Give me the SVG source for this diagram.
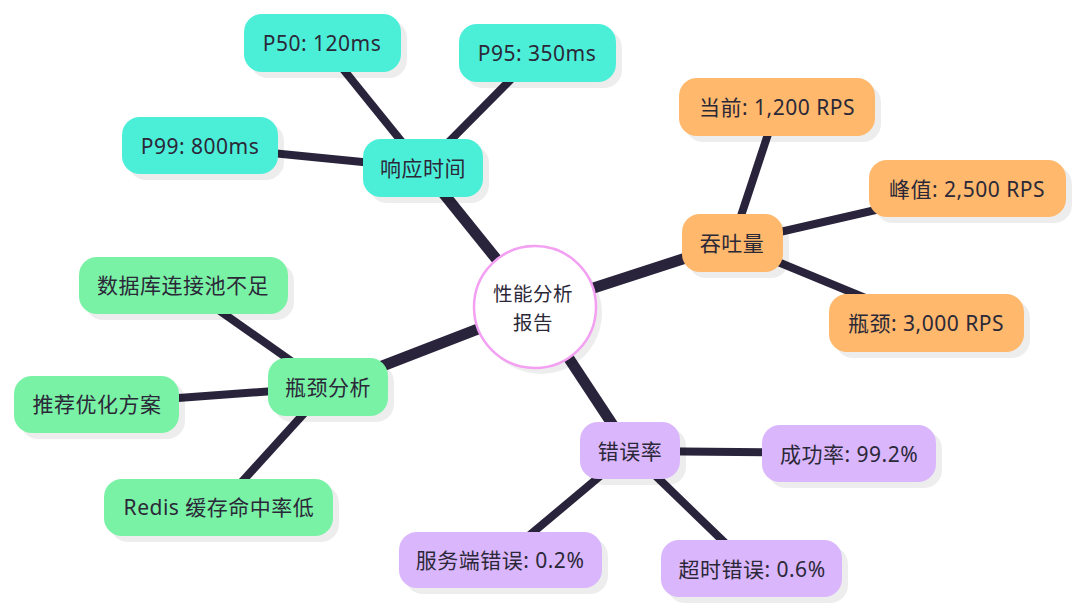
<svg xmlns="http://www.w3.org/2000/svg" width="1080" height="612" viewBox="0 0 1080 612">
<style>
.edge{stroke:#29243b;stroke-linecap:butt;fill:none}
.main{stroke-width:11}
.leaf{stroke-width:8}
.shadow{fill:#000;fill-opacity:0.07}
.t{font-family:"Noto Sans","Noto Sans CJK SC",sans-serif;font-size:21px;letter-spacing:0.5px;fill:#2b2838;text-anchor:middle;dominant-baseline:central}
.ct{font-size:19.5px}
.c1{fill:#4befd8}
.c2{fill:#ffb86c}
.c3{fill:#7af2a6}
.c4{fill:#dab6fc}
</style>
<rect width="1080" height="612" fill="#ffffff"/>
<g id="connectors">
<line class="edge main" x1="535" y1="307" x2="423" y2="168"/>
<line class="edge main" x1="535" y1="307" x2="732" y2="243"/>
<line class="edge main" x1="535" y1="307" x2="328" y2="387"/>
<line class="edge main" x1="535" y1="307" x2="630" y2="451"/>
<line class="edge leaf" x1="423" y1="168" x2="322" y2="43"/>
<line class="edge leaf" x1="423" y1="168" x2="537" y2="53"/>
<line class="edge leaf" x1="423" y1="168" x2="200" y2="146"/>
<line class="edge leaf" x1="732" y1="243" x2="777" y2="107"/>
<line class="edge leaf" x1="732" y1="243" x2="967" y2="189"/>
<line class="edge leaf" x1="732" y1="243" x2="926" y2="323"/>
<line class="edge leaf" x1="328" y1="387" x2="183" y2="285"/>
<line class="edge leaf" x1="328" y1="387" x2="97" y2="404"/>
<line class="edge leaf" x1="328" y1="387" x2="219" y2="507"/>
<line class="edge leaf" x1="630" y1="451" x2="849" y2="453"/>
<line class="edge leaf" x1="630" y1="451" x2="500" y2="560"/>
<line class="edge leaf" x1="630" y1="451" x2="752" y2="569"/>
</g>
<g id="center">
<circle class="shadow" cx="541" cy="313" r="61"/>
<circle cx="535" cy="307" r="61" fill="#ffffff" stroke="#f3a0f3" stroke-width="2.5"/>
<text class="t ct" x="533" y="293">性能分析</text>
<text class="t ct" x="533" y="322">报告</text>
</g>
<g id="n-response">
<rect class="shadow" x="369" y="145" width="120" height="58" rx="18"/>
<rect class="c1" x="363" y="139" width="120" height="58" rx="18"/>
<text class="t" x="423" y="168">响应时间</text>
</g>
<g id="n-p50">
<rect class="shadow" x="250" y="20" width="157" height="58" rx="18"/>
<rect class="c1" x="244" y="14" width="157" height="58" rx="18"/>
<text class="t" x="322" y="43">P50: 120ms</text>
</g>
<g id="n-p95">
<rect class="shadow" x="465" y="30" width="157" height="58" rx="18"/>
<rect class="c1" x="459" y="24" width="157" height="58" rx="18"/>
<text class="t" x="537" y="53">P95: 350ms</text>
</g>
<g id="n-p99">
<rect class="shadow" x="128" y="123" width="156" height="57" rx="18"/>
<rect class="c1" x="122" y="117" width="156" height="57" rx="18"/>
<text class="t" x="200" y="146">P99: 800ms</text>
</g>
<g id="n-throughput">
<rect class="shadow" x="688" y="220" width="101" height="58" rx="18"/>
<rect class="c2" x="682" y="214" width="101" height="58" rx="18"/>
<text class="t" x="732" y="243">吞吐量</text>
</g>
<g id="n-current">
<rect class="shadow" x="685" y="84" width="196" height="58" rx="18"/>
<rect class="c2" x="679" y="78" width="196" height="58" rx="18"/>
<text class="t" x="777" y="107">当前: 1,200 RPS</text>
</g>
<g id="n-peak">
<rect class="shadow" x="875" y="166" width="197" height="57" rx="18"/>
<rect class="c2" x="869" y="160" width="197" height="57" rx="18"/>
<text class="t" x="967" y="189">峰值: 2,500 RPS</text>
</g>
<g id="n-limit">
<rect class="shadow" x="835" y="300" width="195" height="58" rx="18"/>
<rect class="c2" x="829" y="294" width="195" height="58" rx="18"/>
<text class="t" x="926" y="323">瓶颈: 3,000 RPS</text>
</g>
<g id="n-bottleneck">
<rect class="shadow" x="274" y="364" width="120" height="58" rx="18"/>
<rect class="c3" x="268" y="358" width="120" height="58" rx="18"/>
<text class="t" x="328" y="387">瓶颈分析</text>
</g>
<g id="n-db">
<rect class="shadow" x="85" y="263" width="209" height="57" rx="18"/>
<rect class="c3" x="79" y="257" width="209" height="57" rx="18"/>
<text class="t" x="183" y="285">数据库连接池不足</text>
</g>
<g id="n-recommend">
<rect class="shadow" x="20" y="382" width="165" height="57" rx="18"/>
<rect class="c3" x="14" y="376" width="165" height="57" rx="18"/>
<text class="t" x="97" y="404">推荐优化方案</text>
</g>
<g id="n-redis">
<rect class="shadow" x="110" y="485" width="229" height="57" rx="18"/>
<rect class="c3" x="104" y="479" width="229" height="57" rx="18"/>
<text class="t" x="219" y="507">Redis 缓存命中率低</text>
</g>
<g id="n-error">
<rect class="shadow" x="586" y="428" width="100" height="57" rx="18"/>
<rect class="c4" x="580" y="422" width="100" height="57" rx="18"/>
<text class="t" x="630" y="451">错误率</text>
</g>
<g id="n-success">
<rect class="shadow" x="768" y="431" width="174" height="57" rx="18"/>
<rect class="c4" x="762" y="425" width="174" height="57" rx="18"/>
<text class="t" x="849" y="454">成功率: 99.2%</text>
</g>
<g id="n-server">
<rect class="shadow" x="405" y="538" width="203" height="56" rx="18"/>
<rect class="c4" x="399" y="532" width="203" height="56" rx="18"/>
<text class="t" x="500" y="560">服务端错误: 0.2%</text>
</g>
<g id="n-timeout">
<rect class="shadow" x="667" y="546" width="181" height="57" rx="18"/>
<rect class="c4" x="661" y="540" width="181" height="57" rx="18"/>
<text class="t" x="752" y="569">超时错误: 0.6%</text>
</g>
</svg>
